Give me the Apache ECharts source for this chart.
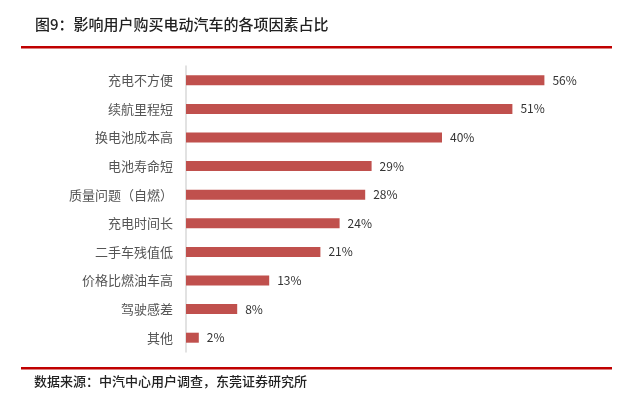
<!DOCTYPE html>
<html>
<head>
<meta charset="utf-8">
<script src="https://cdn.jsdelivr.net/npm/echarts@6/dist/echarts.min.js"></script>
<style>
html, body { margin: 0; padding: 0; background: #fff; }
#chart { width: 633px; height: 394px; }
</style>
</head>
<body>
<div id="chart"></div>
<script>
// 类别（从上到下）
const categories = ['充电不方便', '续航里程短', '换电池成本高', '电池寿命短', '质量问题（自燃）',
  '充电时间长', '二手车残值低', '价格比燃油车高', '驾驶感差', '其他'];
// 占比 %
const values = [56, 51, 40, 29, 28, 24, 21, 13, 8, 2];

const titleText = '图9：影响用户购买电动汽车的各项因素占比';
const sourceText = '数据来源：中汽中心用户调查，东莞证券研究所';

const chart = echarts.init(document.getElementById('chart'));
const font = '"Noto Sans CJK SC", "Noto Sans", sans-serif';

chart.setOption({
    animation: false,
    textStyle: { fontFamily: font },
    title: {
        text: titleText,
        left: 30,
        top: 12,
        textStyle: { fontSize: 15, fontWeight: 500, color: '#222', fontFamily: font }
    },
    graphic: [
        { type: 'rect', shape: { x: 21, y: 46, width: 591, height: 2.5 }, style: { fill: '#c00000' } },
        { type: 'rect', shape: { x: 21, y: 367, width: 591, height: 2.5 }, style: { fill: '#c00000' } },
        {
            type: 'text', left: 34, top: 375,
            style: { text: sourceText, fontSize: 13, fontWeight: 500, fill: '#222', fontFamily: font }
        }
    ],
    grid: { left: 186, right: 63, top: 66, height: 286 },
    xAxis: {
        type: 'value',
        min: 0,
        max: 60,
        show: false
    },
    yAxis: {
        type: 'category',
        data: categories,
        inverse: true,
        axisLine: { show: true, lineStyle: { color: '#d9d9d9', width: 1.5 } },
        axisTick: { show: false },
        axisLabel: { color: '#555', fontSize: 13, margin: 13, fontFamily: font }
    },
    series: [{
        type: 'bar',
        data: values,
        barWidth: 10,
        itemStyle: { color: '#c0504d' },
        label: {
            show: true,
            position: 'right',
            distance: 8,
            formatter: '{c}%',
            color: '#333',
            fontSize: 12,
            fontFamily: font
        }
    }]
});
</script>
</body>
</html>
